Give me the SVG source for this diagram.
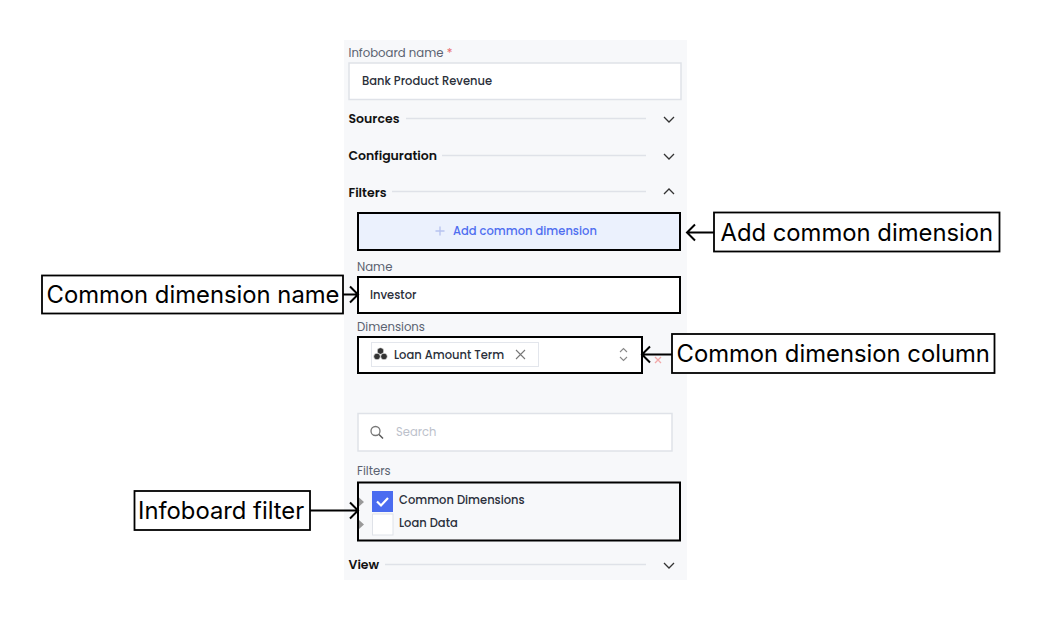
<svg xmlns="http://www.w3.org/2000/svg" width="1040" height="620" viewBox="0 0 1040 620">
<style>
text{font-family:"Poppins","Inter","Noto Sans",sans-serif}
.lab{font-size:11.700px;fill:#5a6270;font-weight:400}
.val{font-size:11.500px;fill:#2a2f3a;font-weight:500}
.sec{font-size:12.500px;fill:#111;font-weight:600}
.rule{stroke:#dfe2e8;stroke-width:1.3;fill:none}
.chev{stroke:#333;stroke-width:1.3;fill:none}
.box{fill:#fff;stroke:#000;stroke-width:2}
.inp{fill:#fff;stroke:#dfe2e8;stroke-width:1.5}
.call{fill:#fff;stroke:#000;stroke-width:1.8}
.ct{font-family:"Inter","Noto Sans",sans-serif;font-size:23.800px;fill:#000;font-weight:400}
.arr{stroke:#000;stroke-width:2;fill:none}
</style>
<rect width="1040" height="620" fill="#fff"/>
<rect x="344" y="40" width="343" height="540" fill="#f7f8fa"/>
<g id="name-field">
<text class="lab" x="348.500" y="56.500">Infoboard name <tspan fill="#e86a6a">*</tspan></text>
<rect class="inp" x="349" y="63" width="332" height="36.500"/>
<text class="val" x="362" y="85">Bank Product Revenue</text>
</g>
<g id="section-sources">
<text class="sec" x="348.500" y="123">Sources</text>
<path class="rule" d="M406 118.500H646"/><path class="chev" d="M664 117l5 5 5-5"/>
</g>
<g id="section-configuration">
<text class="sec" x="348.500" y="160">Configuration</text>
<path class="rule" d="M442 155.500H646"/><path class="chev" d="M664 154l5 5 5-5"/>
</g>
<g id="section-filters">
<text class="sec" x="348.500" y="196.500">Filters</text>
<path class="rule" d="M392 191.500H646"/><path class="chev" d="M664 194l5-5 5 5"/>
</g>
<g id="add-common-dimension-button">
<rect x="358" y="213" width="322" height="37" fill="#ebf1fd" stroke="#000" stroke-width="2"/>
<path d="M440 226.500v9M435.500 231h9" stroke="#b6c2ef" stroke-width="1.3"/>
<text x="453" y="235" font-size="11.500" font-weight="500" fill="#4f6ef0">Add common dimension</text>
</g>
<g id="common-dimension-name">
<text class="lab" x="357" y="270.500">Name</text>
<rect class="box" x="358" y="277" width="322" height="36"/>
<text class="val" x="370" y="299">Investor</text>
</g>
<g id="common-dimension-column">
<text class="lab" x="357" y="330.500">Dimensions</text>
<rect class="box" x="358" y="337" width="284" height="36"/>
<rect x="371.500" y="342.500" width="167" height="24" fill="#fff" stroke="#e3e6ec"/>
<g fill="#333" stroke="#fff" stroke-width="0.6"><circle cx="380.500" cy="351" r="3.300"/><circle cx="377" cy="356.500" r="3.300"/><circle cx="384" cy="356.500" r="3.300"/></g>
<text class="val" x="394" y="358.500">Loan Amount Term</text>
<path d="M516 350l9 9M525 350l-9 9" stroke="#777" stroke-width="1.100"/>
<path d="M620 352l3.500-3.500 3.500 3.500M620 357l3.500 3.500 3.500-3.500" stroke="#888" stroke-width="1.100" fill="none"/>
<path d="M655 357l6 6M661 357l-6 6" stroke="#f2a9a9" stroke-width="1.300"/>
</g>
<g id="search-field">
<rect class="inp" x="358" y="413.500" width="314" height="37.500"/>
<circle cx="375.500" cy="431" r="4.500" fill="none" stroke="#777" stroke-width="1.300"/>
<path d="M379 434.500l4 4" stroke="#555" stroke-width="1.500"/>
<text x="396" y="436" font-size="11.500" fill="#bcc1cb">Search</text>
</g>
<g id="infoboard-filter">
<text class="lab" x="357" y="474.500">Filters</text>
<rect x="358" y="482.500" width="322" height="58" fill="#f7f8fa" stroke="#000" stroke-width="2"/>
<path d="M359 497.500l5 4.500-5 4.500zM359 520l5 4.500-5 4.500z" fill="#999"/>
<rect x="372" y="491" width="21" height="21" fill="#4a6cf0"/>
<path d="M377 501.500l4 4 7-7.500" stroke="#fff" stroke-width="2.200" fill="none"/>
<rect x="372.500" y="514" width="20.500" height="21" fill="#fff" stroke="#dfe2e8"/>
<text class="val" x="399" y="503.500">Common Dimensions</text>
<text class="val" x="399" y="526.500">Loan Data</text>
</g>
<g id="section-view">
<text class="sec" x="348.500" y="569">View</text>
<path class="rule" d="M385 564.500H646"/><path class="chev" d="M664 563l5 5 5-5"/>
</g>
<g id="label-add-common-dimension">
<rect class="call" x="714" y="212.500" width="285.500" height="39"/>
<text class="ct" x="720.500" y="241">Add common dimension</text>
</g>
<g id="label-common-dimension-name">
<rect class="call" x="42" y="275.500" width="301" height="38"/>
<text class="ct" x="46.500" y="303">Common dimension name</text>
</g>
<g id="label-common-dimension-column">
<rect class="call" x="672" y="334" width="322.500" height="39"/>
<text class="ct" x="676.500" y="362">Common dimension column</text>
</g>
<g id="label-infoboard-filter">
<rect class="call" x="134.500" y="491" width="175.500" height="39"/>
<text class="ct" x="138" y="519">Infoboard filter</text>
</g>
<g id="connectors" class="arr">
<path d="M714 232.500H687M695 224.500l-8 8 8 8"/>
<path d="M343 294.500H358M350 286.500l8 8-8 8"/>
<path d="M672 354.500H642M650 346.500l-8 8 8 8"/>
<path d="M310 510.500H358M350 502.500l8 8-8 8"/>
</g>
</svg>
